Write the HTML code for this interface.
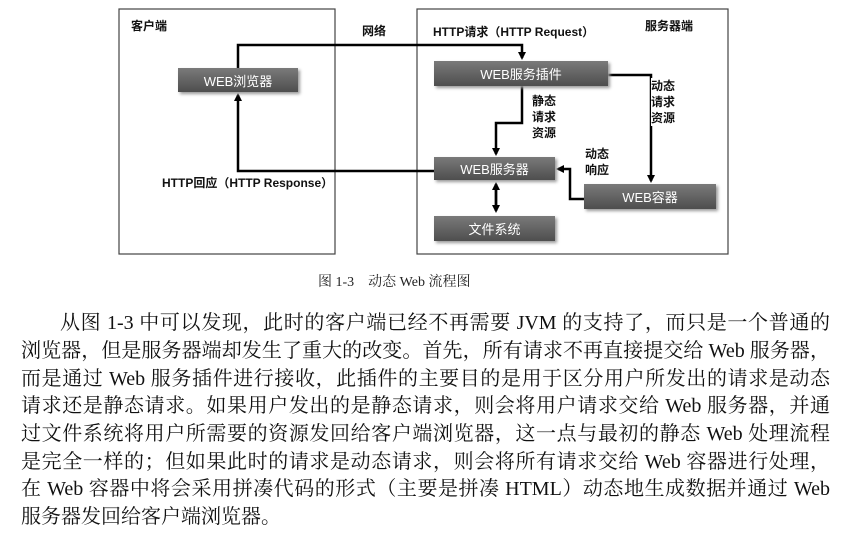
<!DOCTYPE html>
<html><head><meta charset="utf-8"><style>
html,body{margin:0;width:846px;height:556px;overflow:hidden}
body{background:#fff;position:relative;font-family:"Liberation Sans","Noto Sans CJK SC",sans-serif}
.a{position:absolute}
.box{position:absolute;background:linear-gradient(#7a7a7a,#4e4e4e);color:#fff;font-size:13px;display:flex;align-items:center;justify-content:center;box-shadow:2px 2px 3px #999}
.lbl{position:absolute;font-size:12px;font-weight:bold;color:#111;line-height:15px}
.t{position:absolute;left:21px;width:809px;font-family:"Liberation Serif","Noto Serif CJK SC",serif;font-size:20px;color:#111;text-align:justify;text-align-last:justify;white-space:nowrap;line-height:28px;height:28px}
</style></head><body>
<svg class="a" style="left:0;top:0" width="846" height="300">
<defs><marker id="ar" markerWidth="8" markerHeight="8" refX="6" refY="4" orient="auto" markerUnits="userSpaceOnUse"><path d="M0,0 L8,4 L0,8 z" fill="#000"/></marker></defs>
<rect x="119" y="9" width="216" height="245" fill="none" stroke="#444" stroke-width="1.2"/>
<rect x="417" y="9" width="311" height="245" fill="none" stroke="#444" stroke-width="1.2"/>
<g stroke="#000" stroke-width="2.5" fill="none">
<path d="M238,68 V45 H522 V58" marker-end="url(#ar)"/>
<path d="M608,75 H651 V181" marker-end="url(#ar)"/>
<path d="M522,86 V123 H496 V154" marker-end="url(#ar)"/>
<path d="M434,171 H238 V95" marker-end="url(#ar)"/>
<path d="M584,199 H570 V169 H558" marker-end="url(#ar)"/>
<path d="M496,186 V211" marker-end="url(#ar)"/>
<path d="M496,210 V184" marker-end="url(#ar)"/>
</g>
</svg>
<div class="lbl" style="left:131px;top:19px">客户端</div>
<div class="lbl" style="left:362px;top:24px">网络</div>
<div class="lbl" style="left:433px;top:25px">HTTP请求（HTTP Request）</div>
<div class="lbl" style="left:645px;top:19px">服务器端</div>
<div class="lbl" style="left:532px;top:93px;line-height:16px">静态<br>请求<br>资源</div>
<div class="lbl" style="left:651px;top:78px;line-height:16px;background:#fff">动态<br>请求<br>资源</div>
<div class="lbl" style="left:585px;top:146px;line-height:16px">动态<br>响应</div>
<div class="lbl" style="left:162px;top:176px">HTTP回应（HTTP Response）</div>
<div class="box" style="left:178px;top:68px;width:120px;height:24px">WEB浏览器</div>
<div class="box" style="left:434px;top:61px;width:174px;height:25px">WEB服务插件</div>
<div class="box" style="left:434px;top:157px;width:121px;height:23px">WEB服务器</div>
<div class="box" style="left:584px;top:184px;width:132px;height:25px">WEB容器</div>
<div class="box" style="left:434px;top:216px;width:121px;height:25px">文件系统</div>
<div class="a" style="left:318px;top:271px;font-family:'Liberation Serif','Noto Serif CJK SC',serif;font-size:14px;color:#222">图 1-3　动态 Web 流程图</div>
<div class="t" style="top:309px;left:60px;width:770px">从图 1-3 中可以发现，此时的客户端已经不再需要 JVM 的支持了，而只是一个普通的</div>
<div class="t" style="top:337px">浏览器，但是服务器端却发生了重大的改变。首先，所有请求不再直接提交给 Web 服务器，</div>
<div class="t" style="top:365px">而是通过 Web 服务插件进行接收，此插件的主要目的是用于区分用户所发出的请求是动态</div>
<div class="t" style="top:392px">请求还是静态请求。如果用户发出的是静态请求，则会将用户请求交给 Web 服务器，并通</div>
<div class="t" style="top:420px">过文件系统将用户所需要的资源发回给客户端浏览器，这一点与最初的静态 Web 处理流程</div>
<div class="t" style="top:448px">是完全一样的；但如果此时的请求是动态请求，则会将所有请求交给 Web 容器进行处理，</div>
<div class="t" style="top:475px">在 Web 容器中将会采用拼凑代码的形式（主要是拼凑 HTML）动态地生成数据并通过 Web</div>
<div class="t" style="top:503px;text-align-last:left">服务器发回给客户端浏览器。</div>
</body></html>
